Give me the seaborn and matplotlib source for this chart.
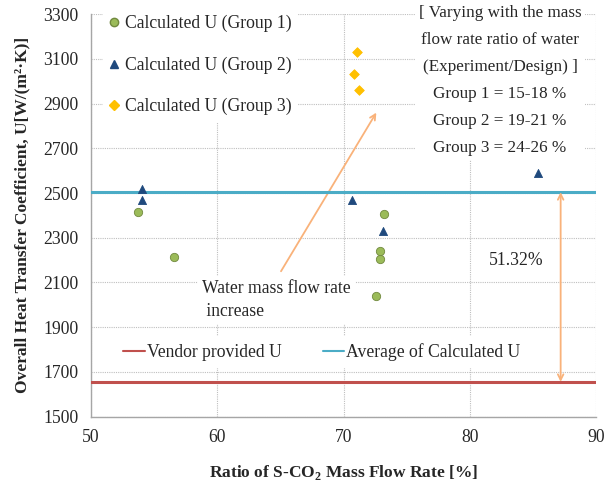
import pandas as pd
import seaborn as sns
import matplotlib.pyplot as plt
from matplotlib.lines import Line2D

g1_x = [53.7, 56.6, 72.6, 72.9, 72.9, 73.2]
g1_u = [2415, 2215, 2040, 2205, 2240, 2405]
g2_x = [54.0, 54.0, 70.7, 73.1, 85.4]
g2_u = [2520, 2470, 2470, 2330, 2590]
g3_x = [70.8, 71.1, 71.2]
g3_u = [3035, 3130, 2960]
group_names = ['Calculated U (Group 1)', 'Calculated U (Group 2)', 'Calculated U (Group 3)']

vendor_u = 1655
avg_u = 2504
x_ticks = [50, 60, 70, 80, 90]
y_ticks = [1500, 1700, 1900, 2100, 2300, 2500, 2700, 2900, 3100, 3300]

df = pd.concat([
    pd.DataFrame({'ratio': g1_x, 'U': g1_u, 'group': group_names[0]}),
    pd.DataFrame({'ratio': g2_x, 'U': g2_u, 'group': group_names[1]}),
    pd.DataFrame({'ratio': g3_x, 'U': g3_u, 'group': group_names[2]}),
])

colors = {group_names[0]: '#9BBB59', group_names[1]: '#1F497D', group_names[2]: '#FFC000'}
edges = {group_names[0]: '#71893F', group_names[1]: '#1F497D', group_names[2]: '#FFC000'}
markers = {group_names[0]: 'o', group_names[1]: '^', group_names[2]: 'D'}
sizes = {group_names[0]: 36, group_names[1]: 34, group_names[2]: 24}

sns.set_style('white')
plt.rcParams['font.family'] = ['Liberation Serif', 'DejaVu Serif']
plt.rcParams['mathtext.fontset'] = 'custom'
plt.rcParams['mathtext.rm'] = 'Liberation Serif:bold'
plt.rcParams['mathtext.bf'] = 'Liberation Serif:bold'

fs = 12.7

fig = plt.figure(figsize=(6.05, 4.84), dpi=100)
ax = fig.add_axes([91 / 605, 1 - 416.5 / 484, 505 / 605, 402.2 / 484])

for name in group_names:
    sub = df[df['group'] == name]
    sns.scatterplot(data=sub, x='ratio', y='U', ax=ax, marker=markers[name],
                    color=colors[name], edgecolor=edges[name], linewidth=0.6,
                    s=sizes[name], zorder=6, legend=False)

ax.axhline(vendor_u, color='#C0504D', lw=2.2, zorder=4)
ax.axhline(avg_u, color='#4BACC6', lw=2.2, zorder=4)

ax.set_xlim(50, 90)
ax.set_ylim(1500, 3300)
ax.set_xticks(x_ticks)
ax.set_yticks(y_ticks)
ax.tick_params(axis='both', labelsize=fs, length=0)
ax.tick_params(axis='y', pad=9)
ax.tick_params(axis='x', pad=9)
ax.set_axisbelow(True)
ax.grid(True, ls=(0, (1, 1)), color='#BFBFBF', lw=0.8)
for side in ['top', 'right']:
    ax.spines[side].set_visible(False)
for side in ['left', 'bottom']:
    ax.spines[side].set_color('#A6A6A6')
    ax.spines[side].set_linewidth(1.0)

ax.set_xlabel('Ratio of S-CO$_2$ Mass Flow Rate [%]', fontsize=12.5, fontweight='bold', labelpad=12)
ax.set_ylabel('Overall Heat Transfer Coefficient, U[W/(m²·K)]', fontsize=12.5, fontweight='bold', labelpad=9)

# scatter legend, top left
h1 = [Line2D([], [], ls='none', marker=markers[n], color=colors[n], markeredgecolor=edges[n],
             markersize=6 if n != group_names[2] else 5) for n in group_names]
leg1 = ax.legend(h1, group_names, loc='upper left', bbox_to_anchor=(103 / 605, 1 - 9 / 484),
                 bbox_transform=fig.transFigure, fontsize=fs, labelspacing=1.37,
                 handlelength=0.6, handletextpad=0.3, borderpad=0.35, borderaxespad=0,
                 frameon=True, fancybox=False, edgecolor='none', facecolor='white', framealpha=1)
leg1.set_zorder(7)
ax.add_artist(leg1)

# line legend, bottom
h2 = [Line2D([], [], color='#C0504D', lw=1.5), Line2D([], [], color='#4BACC6', lw=1.5)]
leg2 = ax.legend(h2, ['Vendor provided U', 'Average of Calculated U'], loc='center',
                 bbox_to_anchor=(322 / 605, 1 - 352 / 484), bbox_transform=fig.transFigure,
                 ncol=2, fontsize=fs, handlelength=1.2, handletextpad=0.15, columnspacing=2.3,
                 borderpad=0.4, frameon=True, fancybox=False, edgecolor='none',
                 facecolor='white', framealpha=1)
leg2.set_zorder(7)

# group note, top right
note = ('[ Varying with the mass\nflow rate ratio of water\n(Experiment/Design) ]\n'
        'Group 1 = 15-18 %\nGroup 2 = 19-21 %\nGroup 3 = 24-26 %')
fig.text(500 / 605, 1 - 5 / 484, note, ha='center', va='top', fontsize=12.3, linespacing=1.92,
         zorder=8, bbox=dict(facecolor='white', edgecolor='none', pad=3))

# arrows and annotations
ax.annotate('', xy=(72.6, 2860), xytext=(65.05, 2150),
            arrowprops=dict(arrowstyle='->', color='#F9B27A', lw=1.3, shrinkA=0, shrinkB=0), zorder=3)
fig.text(202 / 605, 1 - 280 / 484, 'Water mass flow rate\n increase', ha='left', va='top',
         fontsize=fs, linespacing=1.45, zorder=8,
         bbox=dict(facecolor='white', edgecolor='none', pad=3))
ax.annotate('', xy=(87.2, vendor_u), xytext=(87.2, avg_u),
            arrowprops=dict(arrowstyle='<->', color='#F9B27A', lw=1.3, shrinkA=0, shrinkB=0), zorder=5)
ax.text(83.7, 2200, '51.32%', ha='center', va='center', fontsize=fs)

plt.savefig('out.png', dpi=100)
